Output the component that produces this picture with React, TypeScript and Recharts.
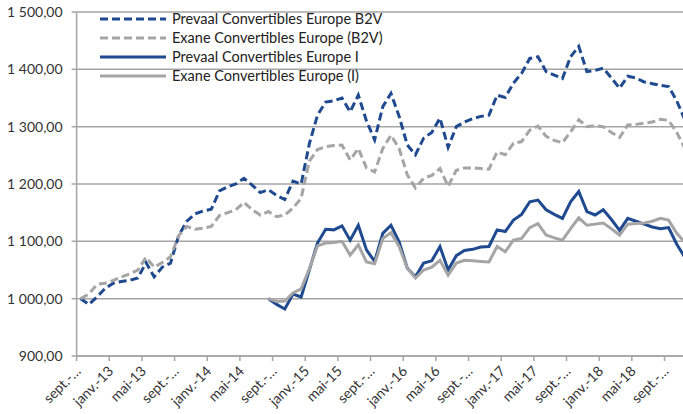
import React from "react";
import {
  LineChart,
  Line,
  XAxis,
  YAxis,
  CartesianGrid,
  Legend,
} from "recharts";

// month ticks every 4 months, from sept. 2012
const tickLabels = [
  "sept.-…", "janv.-13", "mai-13", "sept.-…", "janv.-14", "mai-14",
  "sept.-…", "janv.-15", "mai-15", "sept.-…", "janv.-16", "mai-16",
  "sept.-…", "janv.-17", "mai-17", "sept.-…", "janv.-18", "mai-18",
  "sept.-…",
];

// monthly values, sept. 2012 -> nov. 2018
const prevaalB2V = [
  1000, 990, 1003, 1018, 1027, 1030, 1032, 1036, 1063, 1038,
  1055, 1062, 1110, 1135, 1148, 1153, 1156, 1188, 1195, 1200,
  1210, 1198, 1185, 1190, 1180, 1173, 1205, 1200, 1270, 1320,
  1343, 1345, 1350, 1326, 1355, 1310, 1277, 1335, 1358, 1318,
  1268, 1251, 1280, 1290, 1315, 1264, 1300, 1308, 1314, 1318,
  1320, 1355, 1351, 1376, 1393, 1419, 1422, 1396, 1390, 1384,
  1422, 1440, 1396, 1398, 1402, 1385, 1367, 1388, 1385, 1378,
  1375, 1372, 1370, 1345, 1312,
];
const exaneB2V = [
  1000, 1008, 1025, 1027, 1032, 1038, 1043, 1050, 1072, 1055,
  1063, 1073, 1110, 1126, 1121, 1123, 1126, 1145, 1150, 1155,
  1168, 1155, 1146, 1152, 1143, 1146, 1158, 1175, 1240, 1260,
  1265, 1267, 1268, 1242, 1262, 1228, 1221, 1262, 1285, 1262,
  1216, 1193, 1210, 1215, 1227, 1196, 1224, 1228, 1228, 1227,
  1226, 1256, 1251, 1271, 1274, 1294, 1301, 1283, 1276, 1272,
  1291, 1312, 1300, 1302, 1300, 1290, 1281, 1303, 1304, 1306,
  1308, 1313, 1311, 1290, 1262,
];

// I share classes start in aug. 2014 (month index 23)
const iStart = 23;
const prevaalI = [
  1000, 990, 982, 1008, 1003, 1050, 1097, 1121, 1120, 1127,
  1102, 1128, 1085, 1065, 1114, 1128, 1099, 1053, 1038, 1062,
  1066, 1091, 1050, 1075, 1084, 1086, 1090, 1091, 1120, 1117,
  1137, 1147, 1169, 1172, 1155, 1147, 1140, 1169, 1187, 1152,
  1146, 1155, 1138, 1119, 1140, 1135, 1130, 1125, 1122, 1124,
  1095, 1072,
];
const exaneI = [
  1000, 995, 996, 1010, 1017, 1052, 1092, 1097, 1098, 1100,
  1076, 1094, 1064, 1061, 1105, 1115, 1091, 1053, 1036, 1050,
  1055, 1067, 1041, 1062, 1067, 1066, 1065, 1064, 1091, 1082,
  1102, 1105, 1124, 1131, 1111, 1106, 1102, 1122, 1141, 1128,
  1130, 1132, 1122, 1111, 1130, 1131, 1132, 1135, 1140, 1137,
  1114, 1098,
];

const yTicks = [900, 1000, 1100, 1200, 1300, 1400, 1500];

const BLUE = "#1f4a8f";
const GREY = "#a5a5a5";

const series = [
  { key: "pB2V", name: "Prevaal Convertibles Europe B2V", color: BLUE, dash: "8 4" },
  { key: "eB2V", name: "Exane Convertibles Europe (B2V)", color: GREY, dash: "8 4" },
  { key: "pI", name: "Prevaal Convertibles Europe I", color: BLUE, dash: undefined },
  { key: "eI", name: "Exane Convertibles Europe (I)", color: GREY, dash: undefined },
];

// points sit in the middle of each month slot
const data = prevaalB2V.map((v, i) => ({
  t: i + 0.5,
  pB2V: v,
  eB2V: exaneB2V[i],
  pI: i >= iStart ? prevaalI[i - iStart] : null,
  eI: i >= iStart ? exaneI[i - iStart] : null,
}));

const fmtY = (v: number) =>
  v >= 1000
    ? `${Math.floor(v / 1000)} ${String(v % 1000).padStart(3, "0")},00`
    : `${v},00`;

const XTick = (props: any) => {
  const { x, y, payload } = props;
  const label = tickLabels[Math.round(payload.value / 4)];
  const ax = x + 5;
  const ay = y + 9;
  return (
    <text
      x={ax}
      y={ay}
      transform={`rotate(-45 ${ax} ${ay})`}
      textAnchor="end"
      fontSize={14}
      fill="#333"
    >
      {label}
    </text>
  );
};

const LegendBox = () => (
  <svg width={330} height={80}>
    {series.map((s, i) => (
      <g key={s.key}>
        <line
          x1={0}
          x2={66}
          y1={10 + i * 19}
          y2={10 + i * 19}
          stroke={s.color}
          strokeWidth={3}
          strokeDasharray={s.dash}
        />
        <text x={72} y={15 + i * 19} fontSize={14.5} fill="#222">
          {s.name}
        </text>
      </g>
    ))}
  </svg>
);

export default function App() {
  return (
    <div
      style={{
        position: "absolute",
        left: 0,
        top: 0,
        width: 683,
        height: 414,
        overflow: "hidden",
        background: "#fff",
        fontFamily: "Lato, sans-serif",
      }}
    >
      <LineChart
        width={690}
        height={414}
        data={data}
        margin={{ top: 12, right: 1, bottom: 0, left: 0 }}
      >
        <CartesianGrid vertical={false} stroke={GREY} strokeWidth={1.5} />
        <XAxis
          type="number"
          dataKey="t"
          domain={[0, 75]}
          ticks={tickLabels.map((_, i) => i * 4)}
          tick={<XTick />}
          height={58}
          tickSize={5}
          stroke={GREY}
          strokeWidth={1.5}
          allowDataOverflow
          interval={0}
        />
        <YAxis
          domain={[900, 1500]}
          ticks={yTicks}
          tickFormatter={fmtY}
          width={76.6}
          tickSize={5}
          tickMargin={9}
          stroke={GREY}
          strokeWidth={1.5}
          tick={{ fill: "#333", fontSize: 14 }}
          interval={0}
        />
        <Legend
          layout="vertical"
          align="center"
          verticalAlign="middle"
          content={<LegendBox />}
          wrapperStyle={{ left: 100, top: 9, width: 330, height: 80 }}
        />
        {series.map((s) => (
          <Line
            key={s.key}
            type="linear"
            dataKey={s.key}
            name={s.name}
            stroke={s.color}
            strokeWidth={3}
            strokeDasharray={s.dash}
            dot={false}
            activeDot={false}
            connectNulls={false}
            isAnimationActive={false}
          />
        ))}
      </LineChart>
    </div>
  );
}
